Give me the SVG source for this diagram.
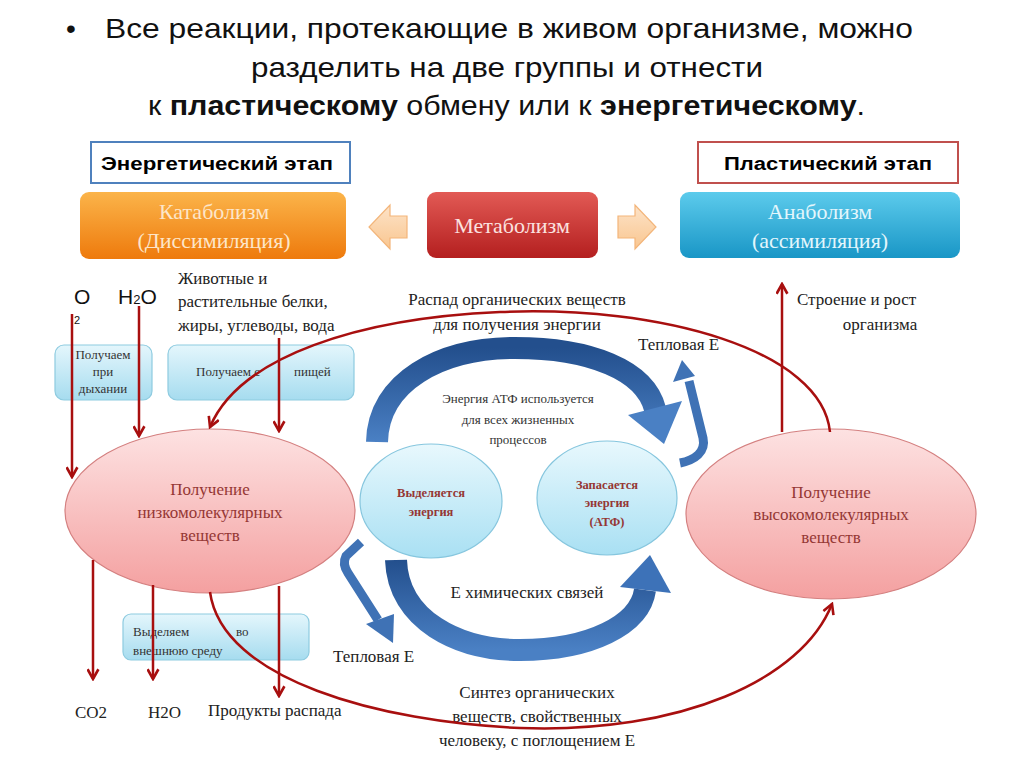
<svg xmlns="http://www.w3.org/2000/svg" width="1024" height="767" viewBox="0 0 1024 767">
<style>
.title{font-family:"Liberation Sans",Arial,sans-serif;font-size:28px;fill:#111}
.stage{font-family:"Liberation Sans",Arial,sans-serif;font-size:18px;font-weight:bold;fill:#000}
.box{font-family:"Liberation Serif","Times New Roman",serif;font-size:22px;text-anchor:middle}
.lbl{font-family:"Liberation Serif","Times New Roman",serif;font-size:17px;fill:#222}
.sm{font-family:"Liberation Serif","Times New Roman",serif;font-size:13px;fill:#333}
.ell{font-family:"Liberation Serif","Times New Roman",serif;font-size:17px;fill:#953734;text-anchor:middle}
.cir{font-family:"Liberation Serif","Times New Roman",serif;font-size:12.5px;font-weight:bold;fill:#953734;text-anchor:middle}
.mid{text-anchor:middle}
.red{fill:none;stroke:#a80f0f;stroke-width:2.5}
.blue{fill:none;stroke:url(#gBand);stroke-width:22}
.thin{fill:none;stroke:#3f72b5;stroke-width:9;stroke-linejoin:round}
</style>
<defs>
<linearGradient id="gOr" x1="0" y1="0" x2="0" y2="1"><stop offset="0" stop-color="#fbb44a"/><stop offset="1" stop-color="#ee7a0c"/></linearGradient>
<linearGradient id="gRd" x1="0" y1="0" x2="0" y2="1"><stop offset="0" stop-color="#e25a55"/><stop offset="1" stop-color="#b41f1f"/></linearGradient>
<linearGradient id="gBl" x1="0" y1="0" x2="0" y2="1"><stop offset="0" stop-color="#5ccbec"/><stop offset="1" stop-color="#1996c6"/></linearGradient>
<linearGradient id="gCy" x1="0" y1="0" x2="0" y2="1"><stop offset="0" stop-color="#e4f6fc"/><stop offset="1" stop-color="#a6dcef"/></linearGradient>
<linearGradient id="gPk" x1="0" y1="0" x2="0" y2="1"><stop offset="0" stop-color="#fde2e2"/><stop offset="1" stop-color="#f4a0a0"/></linearGradient>
<linearGradient id="gLc" x1="0" y1="0" x2="0" y2="1"><stop offset="0" stop-color="#e8f8fd"/><stop offset="1" stop-color="#a9e0f3"/></linearGradient>
<linearGradient id="gBand" x1="0" y1="0" x2="0" y2="1"><stop offset="0" stop-color="#234f8d"/><stop offset="1" stop-color="#4a80c4"/></linearGradient>
<linearGradient id="gAr" x1="0" y1="0" x2="0" y2="1"><stop offset="0" stop-color="#fde3c8"/><stop offset="1" stop-color="#f9c690"/></linearGradient>
<marker id="ah" viewBox="0 0 12 12" refX="10" refY="6" markerWidth="13" markerHeight="13" orient="auto-start-reverse" markerUnits="userSpaceOnUse">
<path d="M1 1 L10 6 L1 11" fill="none" stroke="#a80f0f" stroke-width="2.4"/>
</marker>
</defs>
<rect width="1024" height="767" fill="#fff"/>

<g id="title">
<text class="title" x="66" y="38">•</text>
<text class="title" x="105" y="38" textLength="808" lengthAdjust="spacingAndGlyphs">Все реакции, протекающие в живом организме, можно</text>
<text class="title" x="251" y="77" textLength="512" lengthAdjust="spacingAndGlyphs">разделить на две группы и отнести</text>
<text class="title" x="148" y="115" textLength="717" lengthAdjust="spacingAndGlyphs">к <tspan font-weight="bold">пластическому</tspan> обмену или к <tspan font-weight="bold">энергетическому</tspan>.</text>
</g>

<g id="energy-stage">
<rect x="91" y="142" width="259" height="41" fill="#fff" stroke="#4f81bd" stroke-width="2"/>
<text class="stage" x="101" y="170" textLength="232" lengthAdjust="spacingAndGlyphs">Энергетический этап</text>
</g>
<g id="plastic-stage">
<rect x="698" y="142" width="260" height="41" fill="#fff" stroke="#c0504d" stroke-width="2"/>
<text class="stage" x="724" y="170" textLength="208" lengthAdjust="spacingAndGlyphs">Пластический этап</text>
</g>

<g id="catabolism">
<rect x="80" y="192" width="266" height="67" rx="9" fill="url(#gOr)"/>
<text class="box" x="214" y="219" fill="#fde6c9">Катаболизм</text>
<text class="box" x="214" y="248" fill="#fde6c9">(Диссимиляция)</text>
</g>
<g id="metabolism">
<rect x="427" y="192" width="171" height="66" rx="9" fill="url(#gRd)"/>
<text class="box" x="512" y="233" fill="#fbe2e0">Метаболизм</text>
</g>
<g id="anabolism">
<rect x="680" y="192" width="280" height="66" rx="9" fill="url(#gBl)"/>
<text class="box" x="820" y="219" fill="#e3f6fc">Анаболизм</text>
<text class="box" x="820" y="248" fill="#e3f6fc">(ассимиляция)</text>
</g>
<g id="arrow-left">
<path d="M407 216 L390 216 L390 205 L369 227 L390 249 L390 238 L407 238 Z" fill="url(#gAr)" stroke="#f3b57a" stroke-width="1.2"/>
</g>
<g id="arrow-right">
<path d="M618 216 L635 216 L635 205 L656 227 L635 249 L635 238 L618 238 Z" fill="url(#gAr)" stroke="#f3b57a" stroke-width="1.2"/>
</g>

<g id="inputs">
<text x="74" y="304" font-family="Liberation Sans,Arial,sans-serif" font-size="21" fill="#111">O</text>
<text x="74" y="324" font-family="Liberation Sans,Arial,sans-serif" font-size="11" fill="#111">2</text>
<text x="118" y="304" font-family="Liberation Sans,Arial,sans-serif" font-size="21" fill="#111">H<tspan font-size="13">2</tspan>O</text>
<text class="lbl" x="178" y="284">Животные и</text>
<text class="lbl" x="178" y="307">растительные белки,</text>
<text class="lbl" x="178" y="331">жиры, углеводы, вода</text>
</g>

<g id="resp-box">
<rect x="55" y="345" width="97" height="55" rx="9" fill="url(#gCy)" stroke="#8ecbe0" stroke-width="1.2"/>
<text class="sm mid" x="103" y="359">Получаем</text>
<text class="sm mid" x="103" y="376">при</text>
<text class="sm mid" x="103" y="393">дыхании</text>
</g>
<g id="food-box">
<rect x="168" y="345" width="186" height="55" rx="9" fill="url(#gCy)" stroke="#8ecbe0" stroke-width="1.2"/>
<text class="sm" x="196" y="376">Получаем с</text>
<text class="sm" x="294" y="376">пищей</text>
</g>

<g id="low-mol">
<ellipse cx="210" cy="511" rx="145" ry="82" fill="url(#gPk)" stroke="#d48080" stroke-width="1.2"/>
<text class="ell" x="210" y="495">Получение</text>
<text class="ell" x="210" y="518">низкомолекулярных</text>
<text class="ell" x="210" y="541">веществ</text>
</g>
<g id="high-mol">
<ellipse cx="831" cy="514" rx="145" ry="85" fill="url(#gPk)" stroke="#d48080" stroke-width="1.2"/>
<text class="ell" x="831" y="498">Получение</text>
<text class="ell" x="831" y="520">высокомолекулярных</text>
<text class="ell" x="831" y="543">веществ</text>
</g>
<g id="release">
<ellipse cx="431" cy="501" rx="71" ry="57" fill="url(#gLc)" stroke="#86c6de" stroke-width="1.2"/>
<text class="cir" x="431" y="497">Выделяется</text>
<text class="cir" x="431" y="516">энергия</text>
</g>
<g id="store">
<ellipse cx="607" cy="498" rx="70" ry="57" fill="url(#gLc)" stroke="#86c6de" stroke-width="1.2"/>
<text class="cir" x="607" y="489">Запасается</text>
<text class="cir" x="607" y="507">энергия</text>
<text class="cir" x="607" y="526">(АТФ)</text>
</g>

<g id="excrete-box">
<rect x="123" y="614" width="186" height="46" rx="8" fill="url(#gCy)" stroke="#8ecbe0" stroke-width="1.2"/>
<text class="sm" x="133" y="636">Выделяем</text>
<text class="sm" x="236" y="636">во</text>
<text class="sm" x="133" y="655">внешнюю среду</text>
</g>

<g id="labels">
<text class="lbl mid" x="517" y="305">Распад органических веществ</text>
<text class="lbl mid" x="517" y="330">для получения энергии</text>
<text class="lbl" x="638" y="350" font-size="16">Тепловая Е</text>
<text class="lbl" x="797" y="305">Строение и рост</text>
<text class="lbl mid" x="880" y="330">организма</text>
<text class="sm mid" x="518" y="403" font-size="14">Энергия АТФ используется</text>
<text class="sm mid" x="518" y="424" font-size="14">для всех жизненных</text>
<text class="sm mid" x="518" y="444" font-size="14">процессов</text>
<text class="lbl mid" x="527" y="598">Е химических связей</text>
<text class="lbl" x="333" y="662" font-size="16">Тепловая Е</text>
<text class="lbl mid" x="537" y="698">Синтез органических</text>
<text class="lbl mid" x="537" y="722">веществ, свойственных</text>
<text class="lbl mid" x="537" y="746">человеку, с поглощением Е</text>
<text class="lbl" x="75" y="718" font-size="19">CO2</text>
<text class="lbl" x="148" y="718" font-size="19">H2O</text>
<text class="lbl" x="208" y="716">Продукты распада</text>
</g>

<g id="connectors">
<path class="red" d="M72 314 V477" marker-end="url(#ah)"/>
<path class="red" d="M139 306 V436" marker-end="url(#ah)"/>
<path class="red" d="M279 338 V431" marker-end="url(#ah)"/>
<path class="red" d="M830 432 C822 350 660 305 500 312 C360 318 240 356 210 427" marker-end="url(#ah)"/>
<path class="red" d="M782 432 V284" marker-end="url(#ah)"/>
<path class="red" d="M93 560 V679" marker-end="url(#ah)"/>
<path class="red" d="M153 585 V679" marker-end="url(#ah)"/>
<path class="red" d="M279 586 V696" marker-end="url(#ah)"/>
<path class="red" d="M210 592 C222 680 380 722 520 728 C680 734 802 680 832 604" marker-end="url(#ah)"/>
<path class="blue" d="M377 442 C378 382 440 348 515 348 C590 348 645 370 655 409"/>
<polygon points="628,415 682,401 664,444" fill="#4a80c4"/>
<path class="blue" d="M396 560 C398 620 458 650 520 650 C590 650 640 625 645 590"/>
<polygon points="620,587 671,593 650,555" fill="#3d72b8"/>
<path class="thin" d="M680 463 C695 460 706 452 703 438 L689 381"/>
<polygon points="673,382 695,376 682,360" fill="#3f72b5"/>
<path class="thin" d="M361 542 L346 556 C343 562 344 567 348 573 L378 620"/>
<polygon points="366,624 394,614 393,643" fill="#3f72b5"/>
</g>
</svg>
